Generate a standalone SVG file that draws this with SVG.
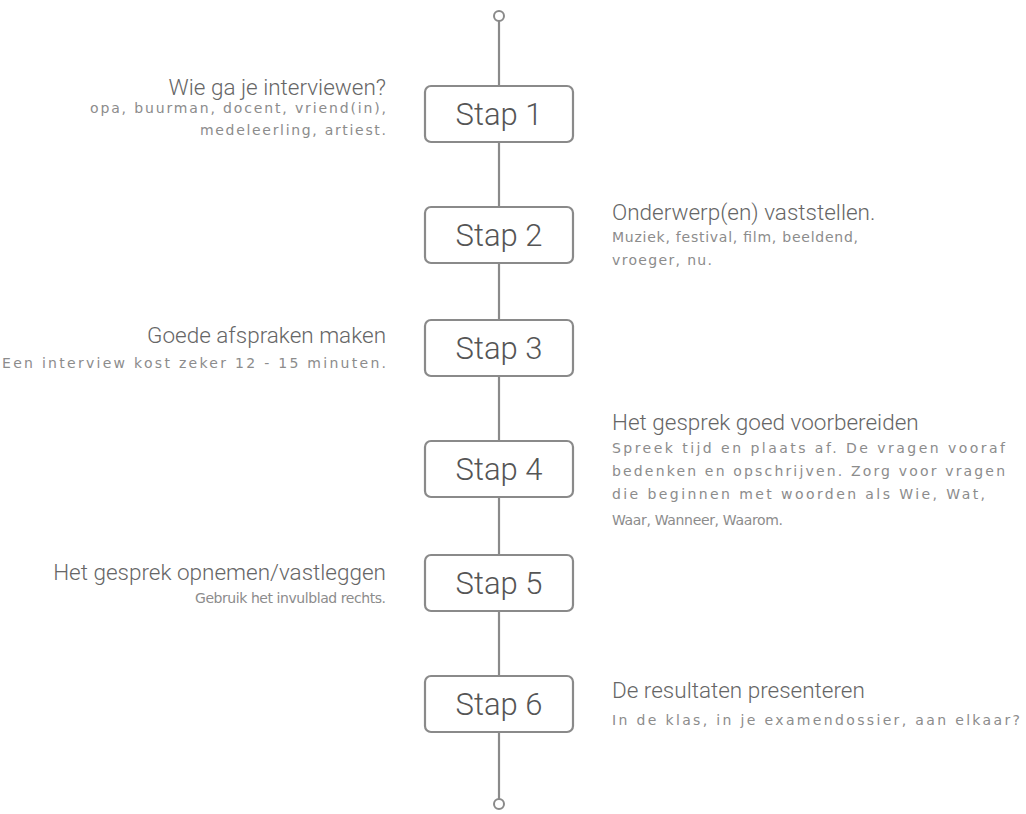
<svg xmlns="http://www.w3.org/2000/svg" width="1026" height="814" viewBox="0 0 1026 814">
<style>
.ln{stroke:#8a8a8a;stroke-width:2.2;fill:none}
.term{stroke:#8a8a8a;stroke-width:2;fill:#fff}
.box{fill:#fff;stroke:#8a8a8a;stroke-width:2.2}
.st{font-family:Roboto,"Liberation Sans",sans-serif;font-weight:300;font-size:31px;fill:#555;text-anchor:middle}
.h{font-family:Roboto,"Liberation Sans",sans-serif;font-weight:300;font-size:22.5px;fill:#666}
.s{font-family:"DejaVu Sans","Liberation Sans",sans-serif;font-size:14px;fill:#8c8c8c}
.r{text-anchor:end}
</style>
<rect width="1026" height="814" fill="#fff"/>
<g id="connectors">
<line class="ln" x1="499" y1="21" x2="499" y2="86"/>
<line class="ln" x1="499" y1="142" x2="499" y2="207"/>
<line class="ln" x1="499" y1="263" x2="499" y2="320"/>
<line class="ln" x1="499" y1="376" x2="499" y2="441"/>
<line class="ln" x1="499" y1="497" x2="499" y2="555"/>
<line class="ln" x1="499" y1="611" x2="499" y2="676"/>
<line class="ln" x1="499" y1="732" x2="499" y2="799"/>
</g>
<g id="start"><circle class="term" cx="499" cy="16" r="5"/></g>
<g id="end"><circle class="term" cx="499" cy="804" r="5"/></g>
<g id="stap1">
<rect class="box" x="425" y="86" width="148" height="56" rx="6"/>
<text class="st" x="499" y="125">Stap 1</text>
</g>
<g id="stap2">
<rect class="box" x="425" y="207" width="148" height="56" rx="6"/>
<text class="st" x="499" y="246">Stap 2</text>
</g>
<g id="stap3">
<rect class="box" x="425" y="320" width="148" height="56" rx="6"/>
<text class="st" x="499" y="359">Stap 3</text>
</g>
<g id="stap4">
<rect class="box" x="425" y="441" width="148" height="56" rx="6"/>
<text class="st" x="499" y="480">Stap 4</text>
</g>
<g id="stap5">
<rect class="box" x="425" y="555" width="148" height="56" rx="6"/>
<text class="st" x="499" y="594">Stap 5</text>
</g>
<g id="stap6">
<rect class="box" x="425" y="676" width="148" height="56" rx="6"/>
<text class="st" x="499" y="715">Stap 6</text>
</g>
<g id="label1">
<text class="h r" x="386" y="95">Wie ga je interviewen?</text>
<text class="s r" x="386" y="113" textLength="296" lengthAdjust="spacing">opa, buurman, docent, vriend(in),</text>
<text class="s r" x="386" y="135" textLength="186" lengthAdjust="spacing">medeleerling, artiest.</text>
</g>
<g id="label2">
<text class="h" x="612" y="220">Onderwerp(en) vaststellen.</text>
<text class="s" x="612" y="242" textLength="246" lengthAdjust="spacing">Muziek, festival, film, beeldend,</text>
<text class="s" x="612" y="265" textLength="100" lengthAdjust="spacing">vroeger, nu.</text>
</g>
<g id="label3">
<text class="h r" x="386" y="343">Goede afspraken maken</text>
<text class="s r" x="386" y="368" textLength="384" lengthAdjust="spacing">Een interview kost zeker 12 - 15 minuten.</text>
</g>
<g id="label4">
<text class="h" x="612" y="430">Het gesprek goed voorbereiden</text>
<text class="s" x="612" y="453" textLength="393" lengthAdjust="spacing">Spreek tijd en plaats af. De vragen vooraf</text>
<text class="s" x="612" y="476" textLength="393" lengthAdjust="spacing">bedenken en opschrijven. Zorg voor vragen</text>
<text class="s" x="612" y="499" textLength="373" lengthAdjust="spacing">die beginnen met woorden als Wie, Wat,</text>
<text class="s" x="612" y="525" textLength="171" lengthAdjust="spacing">Waar, Wanneer, Waarom.</text>
</g>
<g id="label5">
<text class="h r" x="386" y="580">Het gesprek opnemen/vastleggen</text>
<text class="s r" x="386" y="603" textLength="191" lengthAdjust="spacing">Gebruik het invulblad rechts.</text>
</g>
<g id="label6">
<text class="h" x="612" y="698">De resultaten presenteren</text>
<text class="s" x="612" y="725" textLength="408" lengthAdjust="spacing">In de klas, in je examendossier, aan elkaar?</text>
</g>
</svg>
